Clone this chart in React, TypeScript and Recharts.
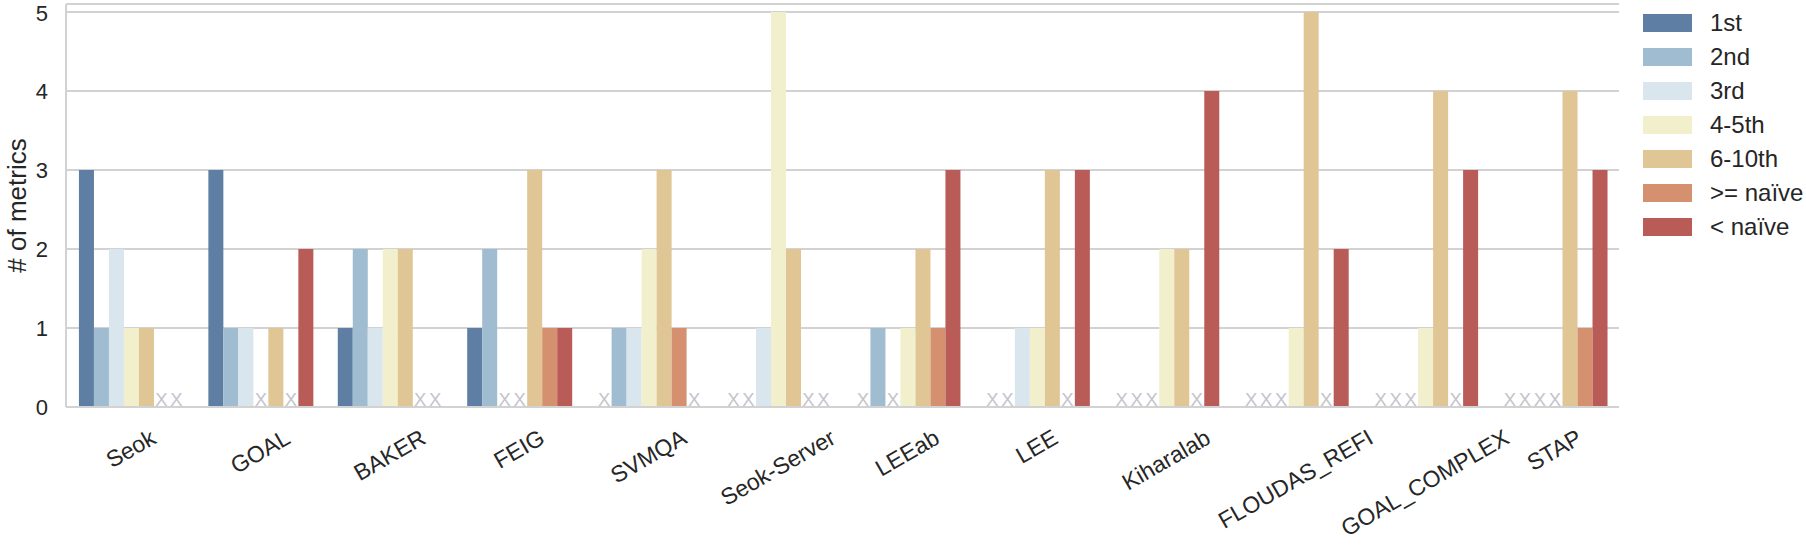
import {
  BarChart,
  Bar,
  XAxis,
  YAxis,
  CartesianGrid,
  ReferenceLine,
  Rectangle,
} from "recharts";

const groups = [
  "Seok",
  "GOAL",
  "BAKER",
  "FEIG",
  "SVMQA",
  "Seok-Server",
  "LEEab",
  "LEE",
  "Kiharalab",
  "FLOUDAS_REFI",
  "GOAL_COMPLEX",
  "STAP",
];

// number of metrics per ranking bucket, one value per group
const first = [3, 3, 1, 1, 0, 0, 0, 0, 0, 0, 0, 0];
const second = [1, 1, 2, 2, 1, 0, 1, 0, 0, 0, 0, 0];
const third = [2, 1, 1, 0, 1, 1, 0, 1, 0, 0, 0, 0];
const fourthFifth = [1, 0, 2, 0, 2, 5, 1, 1, 2, 1, 1, 0];
const sixthTenth = [1, 1, 2, 3, 3, 2, 2, 3, 2, 5, 4, 4];
const atLeastNaive = [0, 0, 0, 1, 1, 0, 1, 0, 0, 0, 0, 1];
const belowNaive = [0, 2, 0, 1, 0, 0, 3, 3, 4, 2, 3, 3];

const yTicks = [0, 1, 2, 3, 4, 5];

const series = [
  { key: "first", name: "1st", values: first, color: "#5f7ea3" },
  { key: "second", name: "2nd", values: second, color: "#9fbcd0" },
  { key: "third", name: "3rd", values: third, color: "#d9e6ed" },
  { key: "fourthFifth", name: "4-5th", values: fourthFifth, color: "#f1efcc" },
  { key: "sixthTenth", name: "6-10th", values: sixthTenth, color: "#e0c595" },
  { key: "atLeastNaive", name: ">= naïve", values: atLeastNaive, color: "#d5916f" },
  { key: "belowNaive", name: "< naïve", values: belowNaive, color: "#b95b56" },
];

const data = groups.map((g, i) => {
  const row: Record<string, any> = { group: g };
  series.forEach((s) => (row[s.key] = s.values[i]));
  return row;
});

const FONT = '"Liberation Sans", Arial, Helvetica, sans-serif';
const TEXT = "#262626";
const GRID = "#d2d2d2";
const TICK_SIZE = 22;
const XTICK_SIZE = 23;

let canvas: HTMLCanvasElement | null = null;
function textWidth(text: string, font: string) {
  if (!canvas) canvas = document.createElement("canvas");
  const ctx = canvas.getContext("2d");
  if (!ctx) return text.length * 12;
  ctx.font = font;
  return ctx.measureText(text).width;
}

// matplotlib style: label rotated 30deg, rotated box centred on the tick
function RotatedTick({ x, y, payload }: any) {
  const label = String(payload.value);
  const w = textWidth(label, `${XTICK_SIZE}px ${FONT}`);
  const h = XTICK_SIZE * 0.95;
  const a = Math.PI / 6;
  const boxH = w * Math.sin(a) + h * Math.cos(a);
  const cy = y + 19 + boxH / 2;
  return (
    <text
      x={x}
      y={cy}
      textAnchor="middle"
      dominantBaseline="central"
      transform={`rotate(-30, ${x}, ${cy})`}
      fontFamily={FONT}
      fontSize={XTICK_SIZE}
      fill={TEXT}
    >
      {label}
    </text>
  );
}

// bars with no metrics get a grey X instead of a rectangle
function barShape(key: string) {
  return (props: any) => {
    const v = props.payload ? props.payload[key] : props.value;
    if (v === 0) {
      return (
        <text
          x={props.x + props.width / 2}
          y={props.y + props.height - 1}
          textAnchor="middle"
          fontFamily={FONT}
          fontSize={18.5}
          fill="#c4c4cc"
        >
          X
        </text>
      );
    }
    return <Rectangle {...props} />;
  };
}

function YLabel({ viewBox }: any) {
  const cx = 17;
  const cy = viewBox.y + viewBox.height / 2;
  return (
    <text
      x={cx}
      y={cy}
      textAnchor="middle"
      dominantBaseline="central"
      transform={`rotate(-90, ${cx}, ${cy})`}
      fontFamily={FONT}
      fontSize={26}
      fill={TEXT}
    >
      # of metrics
    </text>
  );
}

function LegendBox() {
  return (
    <div
      style={{
        position: "absolute",
        left: 1643,
        top: 6,
        fontFamily: FONT,
      }}
    >
      {series.map((s) => (
        <div
          key={s.key}
          style={{ display: "flex", alignItems: "center", height: 34 }}
        >
          <span
            style={{
              display: "inline-block",
              width: 49,
              height: 18,
              background: s.color,
              marginRight: 18,
            }}
          />
          <span style={{ fontSize: 24, color: TEXT, whiteSpace: "nowrap" }}>
            {s.name}
          </span>
        </div>
      ))}
    </div>
  );
}

export default function App() {
  return (
    <div
      style={{
        position: "absolute",
        left: 0,
        top: 0,
        width: 1806,
        height: 549,
        background: "#fff",
      }}
    >
      <BarChart
        width={1806}
        height={549}
        data={data}
        margin={{ top: 4, right: 187, bottom: 0, left: 0 }}
        barCategoryGap="10%"
        barGap={0}
      >
        <CartesianGrid vertical={false} stroke={GRID} strokeWidth={2} />
        <XAxis
          dataKey="group"
          height={142}
          interval={0}
          tickLine={false}
          tickSize={0}
          tickMargin={0}
          axisLine={{ stroke: GRID, strokeWidth: 2 }}
          tick={<RotatedTick />}
        />
        <YAxis
          width={66}
          domain={[0, 5.1]}
          ticks={yTicks}
          tickLine={false}
          tickSize={0}
          tickMargin={18}
          axisLine={{ stroke: GRID, strokeWidth: 2 }}
          tick={{ fontFamily: FONT, fontSize: TICK_SIZE, fill: TEXT }}
          label={<YLabel />}
        />
        <YAxis
          yAxisId="frame"
          orientation="right"
          width={0}
          domain={[0, 1]}
          tick={false}
          tickLine={false}
          axisLine={{ stroke: GRID, strokeWidth: 2 }}
        />
        <ReferenceLine y={5.1} stroke={GRID} strokeWidth={2} />
        {series.map((s) => (
          <Bar
            key={s.key}
            dataKey={s.key}
            name={s.name}
            fill={s.color}
            minPointSize={1}
            shape={barShape(s.key)}
            isAnimationActive={false}
          />
        ))}
      </BarChart>
      <LegendBox />
    </div>
  );
}
